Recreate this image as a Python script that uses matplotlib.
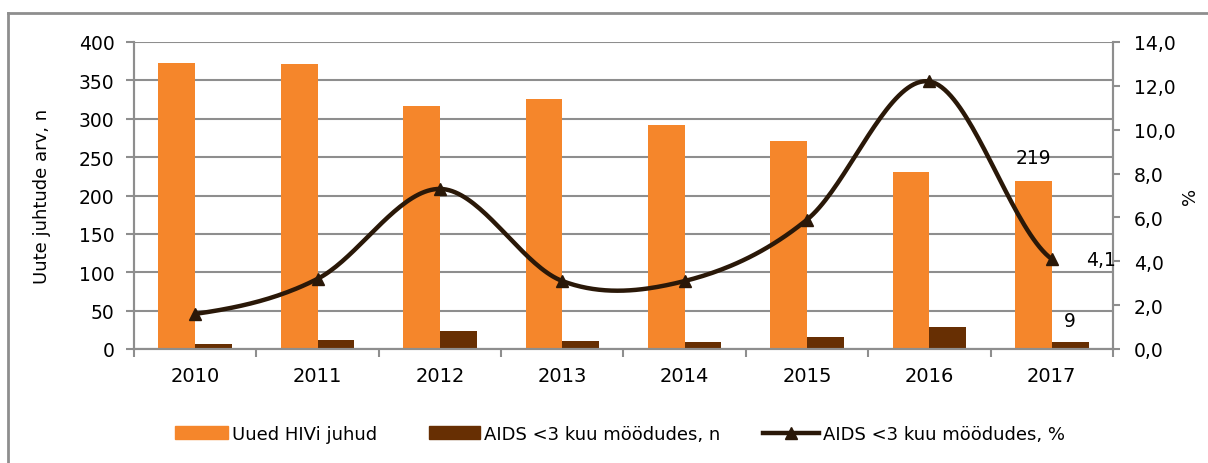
import matplotlib
matplotlib.use("Agg")
import matplotlib.pyplot as plt
import numpy as np
from matplotlib.lines import Line2D
from matplotlib.patches import Patch

years = ["2010", "2011", "2012", "2013", "2014", "2015", "2016", "2017"]
new_hiv = [373, 371, 316, 326, 292, 271, 230, 219]
aids_n = [6, 12, 24, 10, 9, 16, 29, 9]
aids_pct = [1.6, 3.2, 7.3, 3.1, 3.1, 5.9, 12.2, 4.1]
left_ticks = [0, 50, 100, 150, 200, 250, 300, 350, 400]
right_ticks = [0, 2, 4, 6, 8, 10, 12, 14]
legend_labels = ["Uued HIVi juhud", "AIDS <3 kuu möödudes, n", "AIDS <3 kuu möödudes, %"]

ORANGE = "#F5862B"
BROWN = "#672F03"
LINE = "#2A1808"
GRID = "#8E8E8E"

plt.rcParams['font.family'] = ['DejaVu Sans']

fig = plt.figure(figsize=(12.08, 4.64), dpi=100)
ax = fig.add_axes([134/1208, 1-350/464, (1113-134)/1208, (350-43)/464])
ax2 = ax.twinx()

x = np.arange(len(years))
w = 0.30
ax.bar(x - w/2, new_hiv, width=w, color=ORANGE, zorder=2)
ax.bar(x + w/2, aids_n, width=w, color=BROWN, zorder=2)

# smoothed line (Catmull-Rom through the data points)
def catmull(xs, ys, n=40):
    xs = np.asarray(xs, float); ys = np.asarray(ys, float)
    px = np.concatenate([[2*xs[0]-xs[1]], xs, [2*xs[-1]-xs[-2]]])
    py = np.concatenate([[ys[0]], ys, [ys[-1]]])
    ox, oy = [], []
    for i in range(1, len(px)-2):
        t = np.linspace(0, 1, n, endpoint=False)
        for arr, out in ((px, ox), (py, oy)):
            p0, p1, p2, p3 = arr[i-1], arr[i], arr[i+1], arr[i+2]
            m1 = (p2 - p0) / 2
            m2 = (p3 - p1) / 2
            h00 = 2*t**3 - 3*t**2 + 1
            h10 = t**3 - 2*t**2 + t
            h01 = -2*t**3 + 3*t**2
            h11 = t**3 - t**2
            out.extend(h00*p1 + h10*m1 + h01*p2 + h11*m2)
    ox.append(xs[-1]); oy.append(ys[-1])
    return np.array(ox), np.array(oy)

sx, sy = catmull(x, aids_pct)
ax2.plot(sx, sy, color=LINE, lw=3.2, solid_capstyle='round', zorder=3)
ax2.plot(x, aids_pct, linestyle='none', marker='^', ms=9, color=LINE, zorder=4)

ax.set_xlim(-0.5, len(years)-0.5)
ax.set_ylim(0, 400)
ax2.set_ylim(0, 14)

ax.set_yticks(left_ticks)
ax.set_yticklabels([str(v) for v in left_ticks])
ax2.set_yticks(right_ticks)
ax2.set_yticklabels([f"{v:.1f}".replace(".", ",") for v in right_ticks])

ax.set_xticks(x)
ax.set_xticklabels(years)
ax.set_xticks(np.arange(-0.5, len(years)), minor=True)
ax.tick_params(axis='x', which='major', length=0, pad=12, labelsize=14)
ax.tick_params(axis='x', which='minor', length=6, width=1.5, color=GRID, direction='out')
ax.tick_params(axis='y', length=6, width=1.5, color=GRID, labelsize=13.5, pad=8)
ax2.tick_params(axis='y', length=5, width=1.5, color=GRID, labelsize=13.5, pad=10)

ax.grid(axis='y', color=GRID, lw=1.5, zorder=0)
ax.set_axisbelow(True)
for a in (ax, ax2):
    a.spines['top'].set_visible(False)
    for s in ('left', 'right', 'bottom'):
        a.spines[s].set_color(GRID)
        a.spines[s].set_linewidth(1.5)

ax.set_ylabel("Uute juhtude arv, n", fontsize=13, labelpad=20)
ax2.set_ylabel("%", fontsize=13, labelpad=4, rotation=90)

# data labels for 2017
ax.text(x[-1] - w/2, new_hiv[-1] + 18, str(new_hiv[-1]), ha='center', va='bottom', fontsize=13.5)
ax.text(x[-1] + w/2, aids_n[-1] + 16, str(aids_n[-1]), ha='center', va='bottom', fontsize=13.5)
ax2.text(x[-1] + 0.28, aids_pct[-1], f"{aids_pct[-1]:.1f}".replace(".", ","), ha='left', va='center', fontsize=13.5)

handles = [Patch(color=ORANGE), Patch(color=BROWN),
           Line2D([0], [0], color=LINE, lw=3.2, marker='^', ms=9)]
starts = [175, 429, 763]
hlens = [53, 51, 56]
fs = 13
fpx = fs * 100 / 72
for h, lab, sx0, hl in zip(handles, legend_labels, starts, hlens):
    fig.legend([h], [lab], loc='center left', bbox_to_anchor=(sx0/1208, 1-435/464),
               frameon=False, prop={'size': fs},
               handlelength=hl/fpx, handletextpad=0.2, borderpad=0, borderaxespad=0)

# outer border (top and left)
fig.add_artist(Line2D([8/1208, 8/1208], [0, 1-14/464], color=GRID, lw=2, transform=fig.transFigure))
fig.add_artist(Line2D([8/1208, 1], [1-14/464, 1-14/464], color=GRID, lw=2, transform=fig.transFigure))

fig.savefig("out.png", dpi=100)
